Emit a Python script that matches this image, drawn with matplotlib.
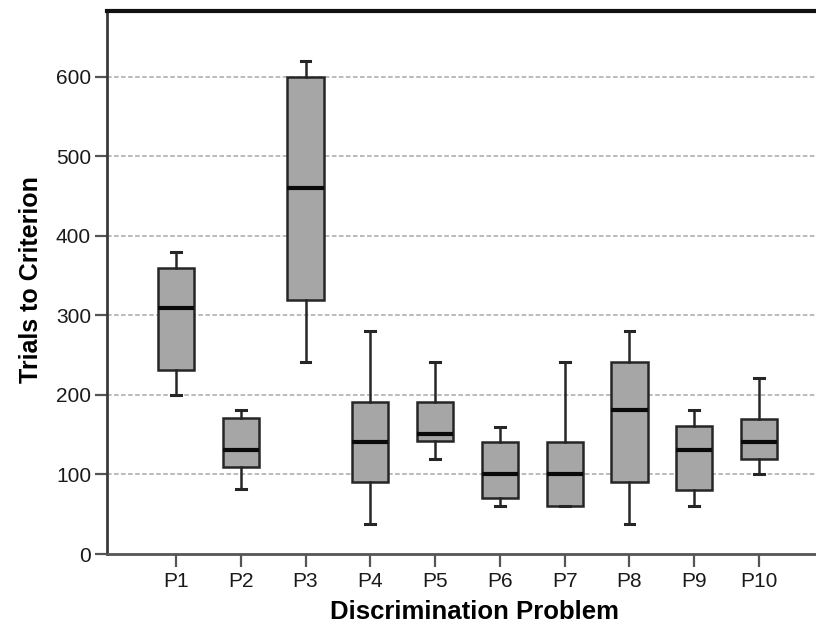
import matplotlib
matplotlib.use("Agg")
import matplotlib.pyplot as plt

# values (trials to criterion)
problems = ["P1", "P2", "P3", "P4", "P5", "P6", "P7", "P8", "P9", "P10"]
whislo = [200, 82, 242, 38, 120, 60, 60, 38, 60, 100]
q1 = [232, 109, 320, 90, 142, 71, 60, 90, 81, 119]
med = [310, 131, 460, 141, 151, 100, 100, 181, 131, 141]
q3 = [360, 171, 600, 191, 191, 141, 141, 241, 161, 170]
whishi = [380, 181, 620, 281, 241, 160, 241, 281, 181, 221]
yticks = [0, 100, 200, 300, 400, 500, 600]

plt.rcParams["font.family"] = ["Liberation Sans", "DejaVu Sans"]

W, H = 816, 626
fig = plt.figure(figsize=(W / 100, H / 100), dpi=100)
# left spine at x=107, y=0 at 554, top spine at 11
ax = fig.add_axes([107 / W, (H - 554) / H, 1 - 107 / W, 543 / H])

stats = []
for i, p in enumerate(problems):
    stats.append({"label": p, "whislo": whislo[i], "q1": q1[i], "med": med[i],
                  "q3": q3[i], "whishi": whishi[i], "fliers": []})

pos = list(range(1, len(problems) + 1))
ax.bxp(stats, positions=pos, widths=0.56, patch_artist=True, showfliers=False,
       capwidths=0.15,
       boxprops=dict(facecolor="#a6a6a6", edgecolor="#262626", linewidth=1.8),
       medianprops=dict(color="#0a0a0a", linewidth=3),
       whiskerprops=dict(color="#262626", linewidth=1.8),
       capprops=dict(color="#262626", linewidth=2.2))

ax.set_xlim(-0.065, 10.88)
ax.set_ylim(0, 683)
ax.set_yticks(yticks)
ax.set_xticks(pos)
ax.set_xticklabels(problems)
for y in yticks[1:]:
    ax.axhline(y, color="#a8a8a8", linestyle=(0, (3, 1.6)), linewidth=1.1, zorder=0)

ax.spines["right"].set_visible(False)
ax.spines["left"].set_linewidth(2)
ax.spines["left"].set_color("#3a3a3a")
ax.spines["bottom"].set_linewidth(2)
ax.spines["bottom"].set_color("#555555")
ax.spines["top"].set_linewidth(3)
ax.spines["top"].set_color("#111111")

ax.tick_params(axis="both", direction="out", length=9, width=1.6, color="#555555",
               labelsize=15, labelcolor="#1a1a1a")
ax.tick_params(axis="y", pad=2.5)
ax.tick_params(axis="x", pad=4)

ax.set_xlabel("Discrimination Problem", fontsize=18.5, fontweight="bold")
ax.xaxis.set_label_coords((474 - 107) / (W - 107), -0.084)
ax.set_ylabel("Trials to Criterion", fontsize=18, fontweight="bold")
ax.yaxis.set_label_coords(-0.090, 0.505)

fig.savefig("out.png", dpi=100)
